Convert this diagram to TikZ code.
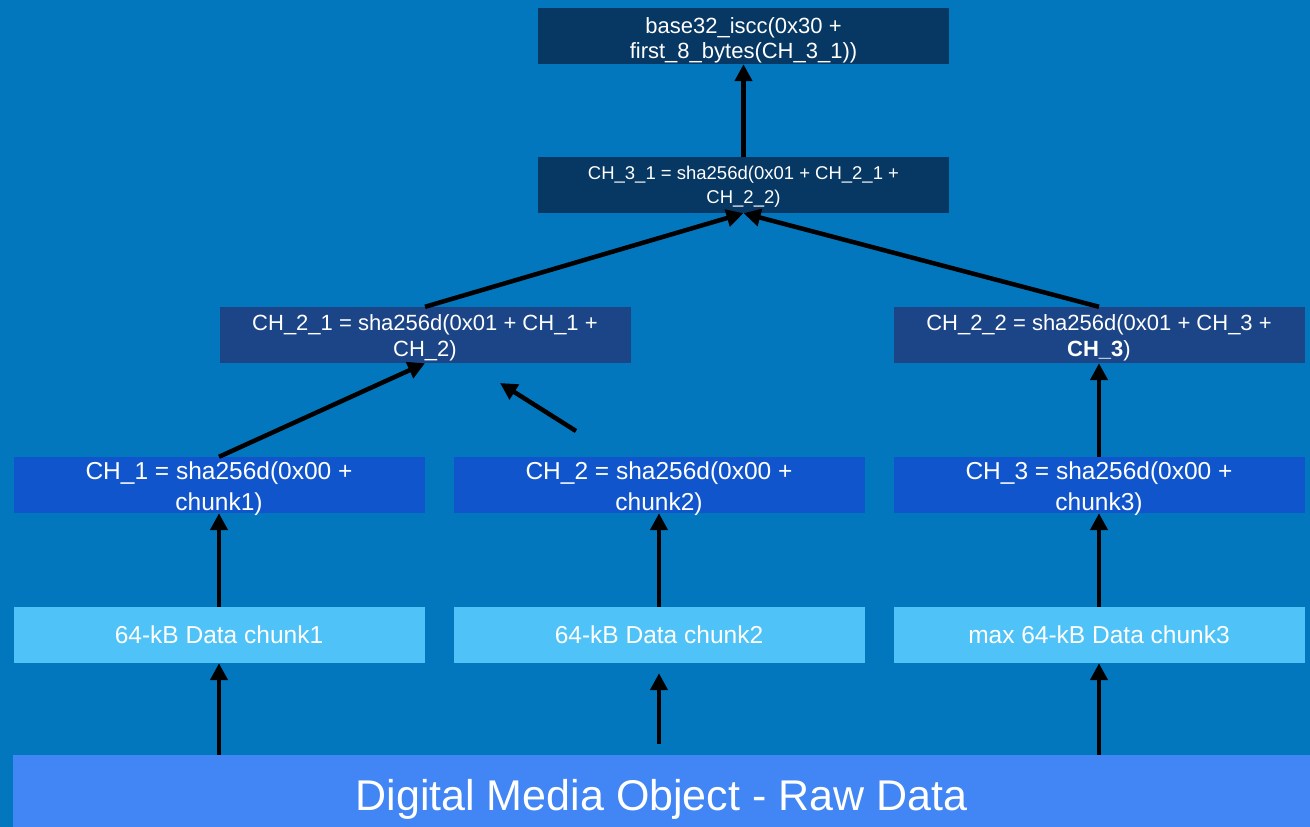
\documentclass[tikz,border=0pt]{standalone}
\usepackage{fontspec}
\setmainfont{Liberation Sans}
\usetikzlibrary{arrows.meta}
\definecolor{bgblue}{HTML}{0277BD}
\definecolor{rawblue}{HTML}{4285F4}
\definecolor{chunkblue}{HTML}{4FC3F7}
\definecolor{lvlone}{HTML}{1155CC}
\definecolor{lvltwo}{HTML}{1C4587}
\definecolor{lvltop}{HTML}{073763}
% two centred lines whose last baseline sits #1 below the node centre
\newcommand{\twolines}[3]{\raisebox{-#1}[0pt][0pt]{\parbox[b]{405pt}{\centering #2\\#3}}}
\tikzset{
  box/.style={inner sep=0pt, minimum width=411pt, minimum height=56pt, align=center, text=white},
  topbox/.style={box, fill=lvltop},
  twobox/.style={box, fill=lvltwo, font=\fontsize{22}{26}\selectfont},
  onebox/.style={box, fill=lvlone, font=\fontsize{24.5}{30.5}\selectfont},
  chunkbox/.style={box, fill=chunkblue, font=\fontsize{24.5}{30}\selectfont},
  arr/.style={line width=4.5pt, draw=black, -{Triangle[width=17pt,length=17pt]}}
}
\begin{document}
\begin{tikzpicture}[x=1pt,y=-1pt]
\fill[bgblue] (0,0) rectangle (1310,827);
\useasboundingbox (0,0) rectangle (1310,827);
% nodes
\node[topbox, font=\fontsize{22}{25}\selectfont] (top) at (743.5,36) {\twolines{22pt}{base32\_iscc(0x30 +}{first\_8\_bytes(CH\_3\_1))}};
\node[topbox, font=\fontsize{18.5}{24}\selectfont] (h31) at (743.5,185) {\twolines{18pt}{CH\_3\_1 = sha256d(0x01 + CH\_2\_1 +}{CH\_2\_2)}};
\node[twobox] (h21) at (425,335) {\twolines{21.5pt}{CH\_2\_1 = sha256d(0x01 + CH\_1 +}{CH\_2)}};
\node[twobox] (h22) at (1099,335) {\twolines{21.5pt}{CH\_2\_2 = sha256d(0x01 + CH\_3 +}{\textbf{CH\_3})}};
\node[onebox] (c1) at (219,485) {\twolines{25pt}{CH\_1 = sha256d(0x00 +}{chunk1)}};
\node[onebox] (c2) at (659,485) {\twolines{25pt}{CH\_2 = sha256d(0x00 +}{chunk2)}};
\node[onebox] (c3) at (1099,485) {\twolines{25pt}{CH\_3 = sha256d(0x00 +}{chunk3)}};
\node[chunkbox] (d1) at (219,635) {64-kB Data chunk1};
\node[chunkbox] (d2) at (659,635) {64-kB Data chunk2};
\node[chunkbox] (d3) at (1099,635) {max 64-kB Data chunk3};
\node[inner sep=0pt, fill=rawblue, minimum width=1297pt, minimum height=72pt, text height=39pt, text depth=0pt, text=white, font=\fontsize{43}{50}\selectfont] (raw) at (661.5,791) {Digital Media Object - Raw Data};
\coordinate (fs) at (576,431);
\coordinate (fe) at (500,383);
% connectors
\draw[arr] (d1.south |- raw.north) -- (d1.south);
\draw[arr, shorten <=11pt, shorten >=10pt] (d2.south |- raw.north) -- (d2.south);
\draw[arr] (d3.south |- raw.north) -- (d3.south);
\draw[arr] (d1.north) -- (c1.south);
\draw[arr] (d2.north) -- (c2.south);
\draw[arr] (d3.north) -- (c3.south);
\draw[arr] (c1.north) -- (h21.south);
\draw[arr] (fs) -- (fe);
\draw[arr] (c3.north) -- (h22.south);
\draw[arr] (h21.north) -- (h31.south);
\draw[arr] (h22.north) -- (h31.south);
\draw[arr] (h31.north) -- (top.south);
\end{tikzpicture}
\end{document}
